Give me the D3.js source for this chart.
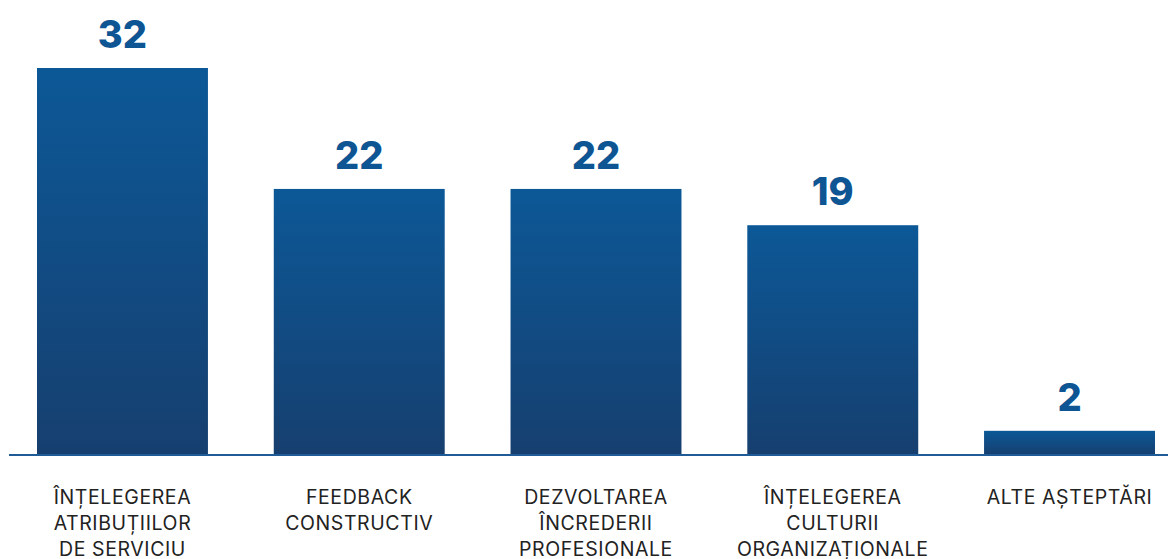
<!DOCTYPE html>
<html>
<head>
<meta charset="utf-8">
<script src="https://cdn.jsdelivr.net/npm/d3@7"></script>
<style>
  body { margin: 0; background: #fff; }
  svg { display: block; }
</style>
</head>
<body>
<div id="main"></div>
<script>
var width = 1168;
var height = 559;

var categories = [
  ['ÎNȚELEGEREA', 'ATRIBUȚIILOR', 'DE SERVICIU'],
  ['FEEDBACK', 'CONSTRUCTIV'],
  ['DEZVOLTAREA', 'ÎNCREDERII', 'PROFESIONALE'],
  ['ÎNȚELEGEREA', 'CULTURII', 'ORGANIZAȚIONALE'],
  ['ALTE AȘTEPTĂRI']
];
var values = [32, 22, 22, 19, 2];

var baseY = 455;

var svg = d3.select('#main').append('svg')
  .attr('width', width)
  .attr('height', height);

var defs = svg.append('defs');
var grad = defs.append('linearGradient')
  .attr('id', 'barGrad')
  .attr('x1', 0).attr('y1', 0).attr('x2', 0).attr('y2', 1);
grad.append('stop').attr('offset', '0%').attr('stop-color', '#0c5897');
grad.append('stop').attr('offset', '100%').attr('stop-color', '#163f6f');

var xScale = d3.scaleBand()
  .domain(d3.range(values.length))
  .range([37, 1155])
  .paddingInner(0.278)
  .paddingOuter(0);

var yScale = d3.scaleLinear()
  .domain([0, 32])
  .range([baseY, 68]);

svg.selectAll('.bar')
  .data(values)
  .enter()
  .append('rect')
  .attr('class', 'bar')
  .attr('x', function(d, i) { return xScale(i); })
  .attr('y', function(d) { return yScale(d); })
  .attr('width', xScale.bandwidth())
  .attr('height', function(d) { return baseY - yScale(d); })
  .attr('fill', 'url(#barGrad)');

// baseline
svg.append('line')
  .attr('x1', 9).attr('x2', width)
  .attr('y1', baseY).attr('y2', baseY)
  .attr('stroke', '#1f5b96')
  .attr('stroke-width', 2);

svg.selectAll('.value')
  .data(values)
  .enter()
  .append('text')
  .attr('class', 'value')
  .attr('x', function(d, i) { return xScale(i) + xScale.bandwidth() / 2; })
  .attr('y', function(d) { return yScale(d) - 20; })
  .attr('text-anchor', 'middle')
  .style('font-family', 'Inter, "Noto Sans", sans-serif')
  .style('font-weight', 800)
  .style('font-size', '38px')
  .style('fill', '#0e5594')
  .text(function(d) { return d; });

var labels = svg.selectAll('.label')
  .data(categories)
  .enter()
  .append('text')
  .attr('class', 'label')
  .attr('text-anchor', 'middle')
  .style('font-family', 'Inter, "Noto Sans", sans-serif')
  .style('font-size', '19.5px')
  .style('letter-spacing', '0.6px')
  .style('fill', '#222');

labels.selectAll('tspan')
  .data(function(d, i) { return d.map(function(t) { return {t: t, i: i}; }); })
  .enter()
  .append('tspan')
  .attr('x', function(d) { return xScale(d.i) + xScale.bandwidth() / 2; })
  .attr('y', function(d, j) { return 504 + j * 26; })
  .text(function(d) { return d.t; });
</script>
</body>
</html>
